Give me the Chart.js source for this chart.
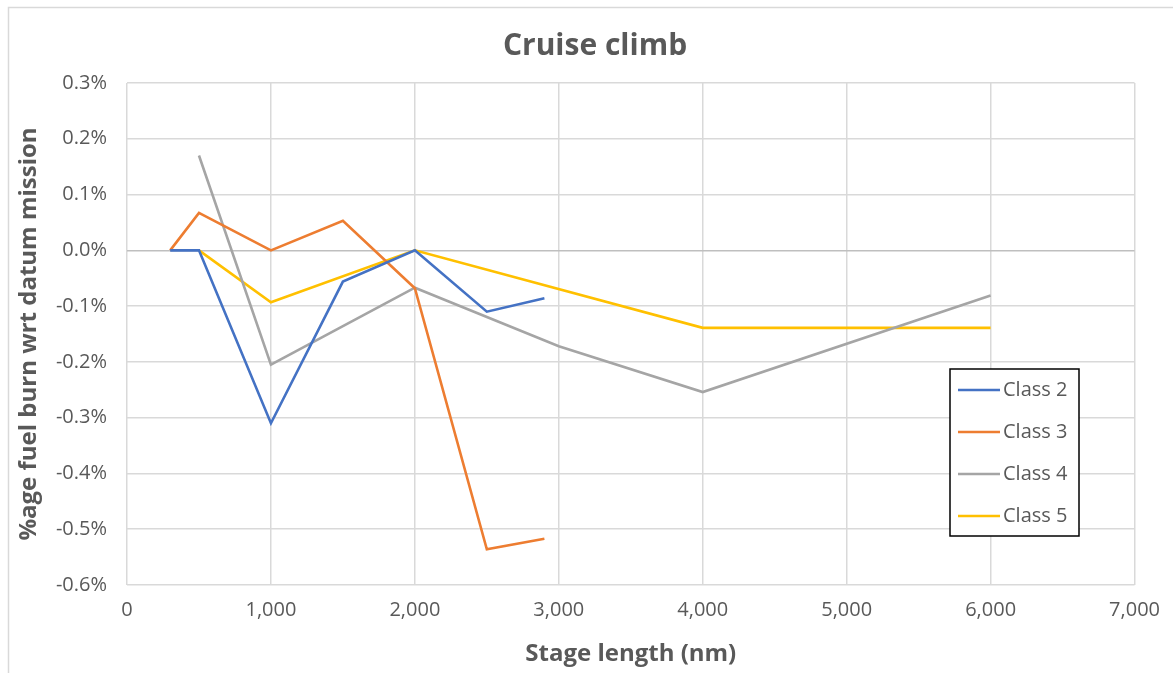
<!DOCTYPE html>
<html>
<head>
<meta charset="utf-8">
<script src="https://cdn.jsdelivr.net/npm/chart.js@4/dist/chart.umd.min.js"></script>
<style>
	html, body { margin: 0; padding: 0; background: #fff; }
	#wrap { width: 1173px; height: 673px; position: relative; }
</style>
</head>
<body>
<div id="wrap"><canvas id="chart"></canvas></div>
<script>
// stage length (nm) and % fuel burn wrt datum mission, per class
const class2X = [300, 500, 1000, 1500, 2000, 2500, 2900];
const class2Y = [0, 0, -0.31, -0.056, 0, -0.11, -0.086];
const class3X = [300, 500, 1000, 1500, 2000, 2500, 2900];
const class3Y = [0, 0.067, 0, 0.053, -0.068, -0.536, -0.517];
const class4X = [500, 1000, 2000, 3000, 4000, 6000];
const class4Y = [0.17, -0.205, -0.067, -0.172, -0.254, -0.081];
const class5X = [500, 1000, 2000, 4000, 6000];
const class5Y = [0, -0.093, 0, -0.139, -0.139];

const seriesNames = ["Class 2", "Class 3", "Class 4", "Class 5"];
const seriesColors = ["#4472C4", "#ED7D31", "#A5A5A5", "#FFC000"];
const chartTitle = "Cruise climb";

const textColor = "#595959";
const gridColor = "#d9d9d9";
const fontFamily = "'Open Sans', sans-serif";

const toPoints = (xs, ys) => xs.map((x, i) => ({x, y: ys[i]}));
const allSeries = [[class2X, class2Y], [class3X, class3Y], [class4X, class4Y], [class5X, class5Y]];

const datasets = allSeries.map(([xs, ys], i) => ({
	label: seriesNames[i],
	data: toPoints(xs, ys),
	borderColor: seriesColors[i],
	backgroundColor: seriesColors[i],
	borderWidth: 2.6,
	showLine: true,
	pointRadius: 0,
	tension: 0
}));

// title + legend box drawn by hand, the spreadsheet puts them off-centre / inside the plot
const decorations = {
	id: "decorations",
	afterDraw: chart => {
		const ctx = chart.ctx;
		ctx.save();
		// outer chart border
		ctx.strokeStyle = gridColor;
		ctx.lineWidth = 1.5;
		ctx.strokeRect(8.5, 7.5, 1300, 800);

		// title (chart frame is wider than the visible crop, so it sits right of the plot centre)
		ctx.fillStyle = textColor;
		ctx.font = `bold 30px ${fontFamily}`;
		ctx.textAlign = "center";
		ctx.textBaseline = "middle";
		ctx.fillText(chartTitle, 595, 46);

		const left = 950, top = 369, w = 129, h = 167;
		ctx.fillStyle = "#fff";
		ctx.fillRect(left, top, w, h);
		ctx.strokeStyle = "#000";
		ctx.lineWidth = 1.5;
		ctx.strokeRect(left, top, w, h);
		ctx.font = `20px ${fontFamily}`;
		ctx.textAlign = "left";
		seriesNames.forEach((name, i) => {
			const y = top + 21 + i * 42;
			ctx.strokeStyle = seriesColors[i];
			ctx.lineWidth = 2.6;
			ctx.beginPath();
			ctx.moveTo(left + 8, y);
			ctx.lineTo(left + 50, y);
			ctx.stroke();
			ctx.fillStyle = textColor;
			ctx.fillText(name, left + 53, y);
		});
		ctx.restore();
	}
};

new Chart(document.getElementById("chart"), {
	type: "scatter",
	data: { datasets },
	options: {
		responsive: true,
		maintainAspectRatio: false,
		animation: false,
		layout: { padding: { left: 8, right: 36, top: 83, bottom: 4 } },
		plugins: {
			legend: { display: false },
			tooltip: { enabled: false },
			title: { display: false }
		},
		scales: {
			x: {
				type: "linear",
				min: 0,
				max: 7000,
				afterFit: scale => { scale.height = 84; },
				ticks: {
					stepSize: 1000,
					color: textColor,
					padding: 13,
					font: { family: fontFamily, size: 20 },
					callback: v => v.toLocaleString("en-US")
				},
				grid: { color: gridColor, lineWidth: 1.5, drawTicks: false },
				border: { display: false },
				title: {
					display: true,
					text: "Stage length (nm)",
					color: textColor,
					font: { family: fontFamily, size: 24, weight: "bold" },
					padding: { top: 4, bottom: 0 }
				}
			},
			y: {
				min: -0.6,
				max: 0.3,
				afterFit: scale => { scale.width = 119; },
				ticks: {
					stepSize: 0.1,
					color: textColor,
					padding: 20,
					font: { family: fontFamily, size: 20 },
					callback: v => v.toFixed(1) + "%"
				},
				grid: {
					color: ctx => ctx.tick && Math.abs(ctx.tick.value) < 1e-9 ? "#bfbfbf" : gridColor,
					lineWidth: 1.5,
					drawTicks: false
				},
				border: { display: false },
				title: {
					display: true,
					text: "%age fuel burn wrt datum mission",
					color: textColor,
					font: { family: fontFamily, size: 24, weight: "bold" },
					padding: { top: 7, bottom: 0 }
				}
			}
		}
	},
	plugins: [decorations]
});
</script>
</body>
</html>
